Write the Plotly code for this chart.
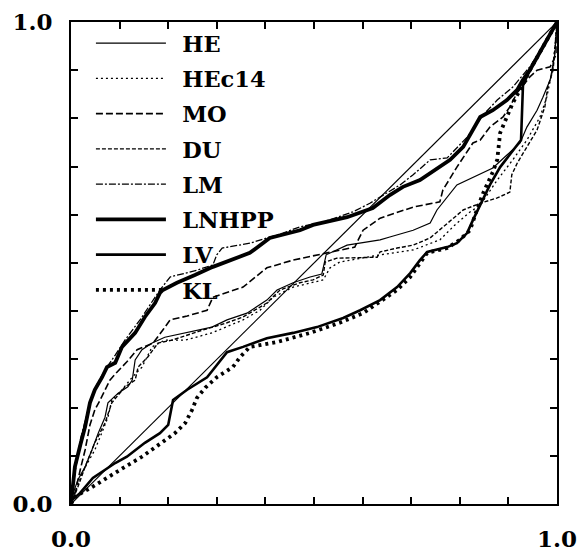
import plotly.graph_objects as go

# ---- data (u-plot: predicted vs. observed) ----
diag_x = [0.0, 1.0]
diag_y = [0.0, 1.0]

he_x = [0, 0.002, 0.014, 0.029, 0.043, 0.056, 0.070, 0.076, 0.097, 0.117, 0.126, 0.132, 0.146, 0.167, 0.193, 0.235, 0.290, 0.321, 0.362, 0.403, 0.424, 0.457, 0.492, 0.516, 0.525, 0.568, 0.636, 0.656, 0.704, 0.739, 0.753, 0.794, 0.827, 0.868, 0.897, 0.924, 0.938, 0.959, 0.971, 0.986, 0.996, 1.0]
he_y = [0, 0.015, 0.050, 0.077, 0.112, 0.147, 0.180, 0.210, 0.230, 0.243, 0.257, 0.299, 0.320, 0.334, 0.346, 0.355, 0.367, 0.382, 0.396, 0.423, 0.444, 0.459, 0.471, 0.477, 0.517, 0.537, 0.548, 0.554, 0.568, 0.583, 0.610, 0.662, 0.678, 0.697, 0.724, 0.749, 0.782, 0.817, 0.844, 0.880, 0.936, 1.0]

hec14_x = [0, 0.010, 0.023, 0.035, 0.049, 0.064, 0.076, 0.084, 0.105, 0.126, 0.146, 0.167, 0.193, 0.235, 0.290, 0.354, 0.389, 0.416, 0.457, 0.519, 0.533, 0.553, 0.636, 0.704, 0.759, 0.790, 0.821, 0.842, 0.877, 0.909, 0.938, 0.965, 0.979, 0.992, 1.0]
hec14_y = [0, 0.029, 0.064, 0.087, 0.112, 0.149, 0.180, 0.216, 0.237, 0.263, 0.284, 0.326, 0.340, 0.340, 0.355, 0.382, 0.402, 0.429, 0.450, 0.465, 0.490, 0.502, 0.517, 0.527, 0.548, 0.579, 0.606, 0.620, 0.672, 0.714, 0.755, 0.803, 0.844, 0.907, 1.0]

mo_x = [0, 0.010, 0.019, 0.029, 0.039, 0.049, 0.060, 0.080, 0.095, 0.115, 0.136, 0.169, 0.189, 0.204, 0.239, 0.280, 0.292, 0.354, 0.403, 0.457, 0.527, 0.584, 0.591, 0.601, 0.636, 0.704, 0.759, 0.765, 0.794, 0.827, 0.842, 0.862, 0.889, 0.903, 0.918, 0.944, 0.959, 0.986, 1.0, 1.0]
mo_y = [0, 0.029, 0.071, 0.112, 0.164, 0.195, 0.216, 0.257, 0.274, 0.295, 0.320, 0.334, 0.361, 0.382, 0.390, 0.402, 0.429, 0.450, 0.490, 0.506, 0.521, 0.533, 0.548, 0.568, 0.593, 0.616, 0.627, 0.651, 0.699, 0.749, 0.755, 0.782, 0.803, 0.824, 0.853, 0.886, 0.900, 0.907, 0.936, 1.0]

du_x = [0, 0.008, 0.014, 0.029, 0.049, 0.070, 0.084, 0.111, 0.132, 0.138, 0.158, 0.179, 0.208, 0.265, 0.321, 0.354, 0.403, 0.430, 0.471, 0.498, 0.519, 0.523, 0.547, 0.630, 0.636, 0.671, 0.704, 0.739, 0.753, 0.774, 0.807, 0.842, 0.877, 0.903, 0.907, 0.918, 0.938, 0.959, 0.975, 0.981, 0.992, 1.0]
du_y = [0, 0.019, 0.035, 0.077, 0.127, 0.168, 0.210, 0.243, 0.257, 0.284, 0.305, 0.334, 0.340, 0.359, 0.376, 0.388, 0.417, 0.444, 0.459, 0.465, 0.475, 0.502, 0.510, 0.512, 0.523, 0.531, 0.537, 0.552, 0.564, 0.583, 0.610, 0.624, 0.635, 0.647, 0.683, 0.707, 0.741, 0.776, 0.824, 0.865, 0.900, 1.0]

lm_x = [0, 0.006, 0.019, 0.035, 0.053, 0.070, 0.091, 0.111, 0.142, 0.163, 0.183, 0.204, 0.259, 0.292, 0.300, 0.311, 0.368, 0.436, 0.471, 0.519, 0.580, 0.615, 0.677, 0.704, 0.739, 0.774, 0.815, 0.848, 0.877, 0.909, 0.944, 0.971, 1.0]
lm_y = [0, 0.050, 0.133, 0.195, 0.247, 0.278, 0.309, 0.340, 0.382, 0.413, 0.444, 0.471, 0.485, 0.496, 0.517, 0.531, 0.541, 0.562, 0.575, 0.585, 0.606, 0.624, 0.662, 0.683, 0.714, 0.718, 0.761, 0.807, 0.838, 0.865, 0.907, 0.948, 1.0]

lnhpp_x = [0, 0.004, 0.008, 0.019, 0.029, 0.039, 0.049, 0.064, 0.074, 0.091, 0.105, 0.132, 0.152, 0.173, 0.183, 0.189, 0.218, 0.255, 0.292, 0.368, 0.409, 0.471, 0.498, 0.568, 0.621, 0.656, 0.683, 0.718, 0.780, 0.807, 0.827, 0.842, 0.868, 0.897, 0.918, 0.930, 0.944, 0.971, 1.0]
lnhpp_y = [0, 0.039, 0.077, 0.122, 0.160, 0.210, 0.237, 0.263, 0.284, 0.293, 0.326, 0.355, 0.388, 0.417, 0.438, 0.444, 0.459, 0.475, 0.492, 0.521, 0.552, 0.568, 0.579, 0.595, 0.614, 0.641, 0.658, 0.672, 0.714, 0.741, 0.776, 0.803, 0.817, 0.838, 0.859, 0.880, 0.900, 0.948, 1.0]

lv_x = [0, 0.002, 0.019, 0.045, 0.091, 0.115, 0.152, 0.183, 0.200, 0.210, 0.239, 0.280, 0.292, 0.321, 0.354, 0.403, 0.457, 0.506, 0.560, 0.595, 0.636, 0.671, 0.698, 0.718, 0.733, 0.774, 0.794, 0.815, 0.827, 0.842, 0.862, 0.883, 0.903, 0.918, 0.926, 0.930, 0.944, 0.971, 1.0]
lv_y = [0, 0.008, 0.023, 0.054, 0.085, 0.098, 0.127, 0.147, 0.164, 0.216, 0.237, 0.263, 0.278, 0.315, 0.326, 0.344, 0.355, 0.367, 0.386, 0.402, 0.423, 0.450, 0.479, 0.506, 0.523, 0.533, 0.541, 0.562, 0.589, 0.620, 0.662, 0.699, 0.724, 0.745, 0.755, 0.869, 0.900, 0.948, 1.0]

kl_x = [0, 0.008, 0.043, 0.076, 0.111, 0.146, 0.173, 0.193, 0.214, 0.235, 0.249, 0.259, 0.276, 0.300, 0.333, 0.348, 0.368, 0.424, 0.492, 0.553, 0.601, 0.671, 0.698, 0.733, 0.774, 0.800, 0.821, 0.835, 0.848, 0.868, 0.877, 0.883, 0.897, 0.909, 0.924, 0.944, 0.971, 1.0]
kl_y = [0, 0.015, 0.035, 0.056, 0.077, 0.098, 0.118, 0.133, 0.147, 0.168, 0.195, 0.220, 0.241, 0.263, 0.284, 0.305, 0.326, 0.336, 0.355, 0.376, 0.396, 0.444, 0.471, 0.521, 0.531, 0.548, 0.568, 0.610, 0.645, 0.689, 0.714, 0.770, 0.803, 0.832, 0.859, 0.900, 0.948, 1.0]

series_names = ["HE", "HEc14", "MO", "DU", "LM", "LNHPP", "LV", "KL"]
series_x = [he_x, hec14_x, mo_x, du_x, lm_x, lnhpp_x, lv_x, kl_x]
series_y = [he_y, hec14_y, mo_y, du_y, lm_y, lnhpp_y, lv_y, kl_y]
series_line = [
    dict(width=1.2, dash="solid"),
    dict(width=1.3, dash="2px,3px"),
    dict(width=1.6, dash="7px,3px"),
    dict(width=1.4, dash="4px,2px"),
    dict(width=1.3, dash="7px,2px,2px,2px"),
    dict(width=3.8, dash="solid"),
    dict(width=2.6, dash="solid"),
    dict(width=3.8, dash="3px,4px"),
]

tick_vals = [i / 10 for i in range(11)]
x_tick_text = ["0.0"] + [""] * 9 + ["1.0"]
y_tick_text = ["0.0"] + [""] * 9 + ["1.0"]

FONT = "DejaVu Serif"
SP = "\u2002"  # spacing between legend sample and label

fig = go.Figure()
fig.add_trace(go.Scatter(x=diag_x, y=diag_y, mode="lines",
                         line=dict(color="black", width=1.2), showlegend=False, hoverinfo="skip"))
for i, (name, xs, ys, ln) in enumerate(zip(series_names, series_x, series_y, series_line)):
    fig.add_trace(go.Scatter(x=xs, y=ys, mode="lines", name=SP + name, legendgroup=f"g{i}",
                             line=dict(color="black", **ln)))

axis_common = dict(
    range=[0, 1], showgrid=False, zeroline=False, automargin=False,
    showline=True, linecolor="black", linewidth=2, mirror="ticks",
    ticks="inside", ticklen=7, tickwidth=1.5, tickcolor="black",
    tickvals=tick_vals,
    tickfont=dict(family=FONT, size=23, color="black", weight="bold"),
)

fig.update_layout(
    width=582, height=553,
    margin=dict(l=71, r=25, t=22, b=49, autoexpand=False),
    paper_bgcolor="white", plot_bgcolor="white",
    showlegend=True,
    legend=dict(
        x=0.041, y=1.0, xanchor="left", yanchor="top",
        bgcolor="rgba(0,0,0,0)", borderwidth=0,
        font=dict(family=FONT, size=22.5, color="black", weight="bold"),
        itemwidth=70, tracegroupgap=3,
    ),
    xaxis=dict(axis_common, ticktext=x_tick_text, ticklabelstandoff=13),
    yaxis=dict(axis_common, ticktext=y_tick_text, ticklabelstandoff=12),
)

fig.write_html("out.html")
